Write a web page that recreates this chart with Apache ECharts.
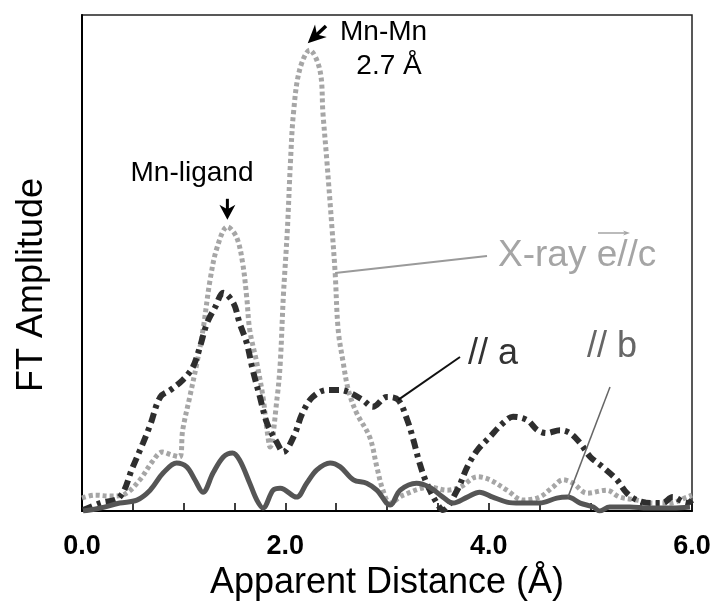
<!DOCTYPE html>
<html>
<head>
<meta charset="utf-8">
<script src="https://cdn.jsdelivr.net/npm/echarts@6/dist/echarts.min.js"></script>
<style>
  html, body { margin: 0; padding: 0; background: #fff; }
  #chart { width: 715px; height: 606px; }
</style>
</head>
<body>
<div id="chart"></div>
<script>
// x tick labels (Å)
var xTicks = [0, 2, 4, 6];
var xTickLabels = ['0.0', '2.0', '4.0', '6.0'];

// X-ray e//c (gray dotted)
var ecX = [0.00, 0.13, 0.28, 0.42, 0.57, 0.69, 0.79, 0.88, 0.96, 0.99, 1.06, 1.13, 1.19, 1.26, 1.33, 1.43, 1.52, 1.58, 1.62, 1.65, 1.72, 1.78, 1.82, 1.85, 1.92, 1.95, 1.98, 2.02, 2.05, 2.08, 2.14, 2.24, 2.34, 2.37, 2.41, 2.46, 2.49, 2.52, 2.57, 2.62, 2.70, 2.83, 2.90, 2.96, 3.03, 3.16, 3.42, 3.59, 3.72, 3.89, 4.01, 4.18, 4.34, 4.50, 4.63, 4.73, 4.83, 4.97, 5.16, 5.29, 5.46, 5.62, 5.78, 5.95, 6.00];
var ecY = [2.6, 3.2, 3.0, 3.4, 6.3, 9.9, 11.9, 11.3, 10.9, 16.3, 23.0, 29.8, 36.5, 46.6, 53.2, 57.3, 55.2, 50.0, 43.1, 36.5, 29.8, 23.0, 16.3, 12.9, 23.0, 29.8, 43.1, 56.7, 70.2, 80.2, 88.9, 92.9, 88.9, 80.2, 70.2, 56.7, 48.0, 36.5, 29.8, 24.4, 19.8, 14.9, 8.9, 4.2, 1.6, 3.2, 4.8, 4.2, 4.8, 6.9, 6.3, 4.2, 2.2, 2.8, 4.8, 6.3, 5.6, 3.6, 4.2, 2.8, 2.2, 1.6, 1.6, 2.8, 3.2];

// // a (dark dash-dot)
var aX = [0.01, 0.18, 0.37, 0.50, 0.60, 0.67, 0.77, 0.87, 0.99, 1.09, 1.16, 1.23, 1.31, 1.39, 1.49, 1.55, 1.62, 1.68, 1.75, 1.82, 1.92, 1.98, 2.08, 2.17, 2.27, 2.41, 2.54, 2.64, 2.76, 2.86, 3.00, 3.11, 3.20, 3.26, 3.32, 3.39, 3.49, 3.55, 3.69, 3.79, 3.89, 4.01, 4.14, 4.24, 4.38, 4.48, 4.57, 4.70, 4.80, 4.90, 5.00, 5.12, 5.26, 5.36, 5.46, 5.59, 5.71, 5.81, 5.95, 6.00];
var aY = [0.2, 1.6, 2.8, 8.9, 13.7, 17.3, 23.0, 24.4, 26.4, 29.0, 33.1, 37.9, 41.1, 44.0, 41.9, 37.9, 33.9, 28.4, 23.0, 17.7, 13.7, 11.9, 14.9, 19.8, 23.0, 24.4, 24.4, 23.8, 22.4, 21.0, 23.0, 22.4, 18.3, 14.3, 9.7, 5.6, 1.6, 0.2, 4.2, 8.9, 12.3, 14.9, 17.7, 19.0, 18.3, 16.3, 15.7, 16.3, 15.7, 13.7, 10.9, 8.9, 6.3, 3.6, 2.2, 1.6, 1.6, 2.8, 1.6, 2.2];

// // b (solid)
var bX = [0.01, 0.18, 0.37, 0.54, 0.67, 0.80, 0.93, 1.03, 1.11, 1.19, 1.29, 1.39, 1.48, 1.55, 1.65, 1.72, 1.78, 1.88, 1.95, 2.11, 2.21, 2.31, 2.44, 2.54, 2.67, 2.80, 2.90, 3.03, 3.13, 3.29, 3.42, 3.55, 3.65, 3.79, 3.91, 4.04, 4.18, 4.31, 4.50, 4.67, 4.78, 4.90, 5.03, 5.09, 5.19, 5.39, 5.56, 5.81, 5.98];
var bY = [0.0, 0.6, 1.6, 2.2, 4.2, 7.7, 9.7, 8.9, 6.3, 3.8, 7.7, 10.9, 11.7, 10.3, 5.6, 2.2, 0.6, 4.2, 4.6, 2.8, 5.6, 8.3, 9.7, 8.9, 6.3, 5.6, 4.2, 1.2, 4.2, 5.6, 4.8, 2.8, 1.6, 2.8, 3.8, 2.8, 1.8, 1.6, 1.6, 2.6, 2.8, 1.6, 0.8, 0.0, 0.8, 0.8, 0.6, 0.6, 0.8];

function pairs(xs, ys) {
    var out = [];
    for (var i = 0; i < xs.length; i++) out.push([xs[i], ys[i]]);
    return out;
}

var FONT = '"Liberation Sans", Arial, Helvetica, sans-serif';
var chart = echarts.init(document.getElementById('chart'));

var option = {
    backgroundColor: '#fff',
    animation: false,
    grid: {
        left: 82, right: 23, top: 15, bottom: 95,
        show: true, borderColor: '#222', borderWidth: 1.5, backgroundColor: 'transparent'
    },
    xAxis: {
        type: 'value',
        min: 0, max: 6, interval: 0.5,
        name: 'Apparent Distance (Å)',
        nameLocation: 'middle',
        nameGap: 53,
        nameTextStyle: { fontFamily: FONT, fontSize: 36, color: '#000' },
        axisLine: { lineStyle: { color: '#000', width: 2 } },
        axisTick: { inside: true, length: 8, lineStyle: { color: '#000', width: 1.5 } },
        axisLabel: {
            margin: 22,
            fontFamily: FONT, fontSize: 27, fontWeight: 'bold', color: '#000',
            formatter: function (v) {
                var k = xTicks.indexOf(Math.round(v * 100) / 100);
                return k >= 0 ? xTickLabels[k] : '';
            }
        },
        splitLine: { show: false }
    },
    yAxis: {
        type: 'value',
        min: 0, max: 100,
        name: 'FT Amplitude',
        nameLocation: 'middle',
        nameGap: 32,
        nameTextStyle: { fontFamily: FONT, fontSize: 36, color: '#000', padding: [0, 44, 0, 0] },
        axisLine: { show: true, lineStyle: { color: '#000', width: 2 } },
        axisTick: { show: false },
        axisLabel: { show: false },
        splitLine: { show: false }
    },
    series: [
        {
            name: 'X-ray e//c',
            type: 'line',
            data: pairs(ecX, ecY),
            smooth: 0.35,
            showSymbol: false,
            z: 2,
            lineStyle: { color: '#a6a6a6', width: 5, type: [4, 3], cap: 'butt' }
        },
        {
            name: '// a',
            type: 'line',
            data: pairs(aX, aY),
            smooth: 0.35,
            showSymbol: false,
            z: 3,
            lineStyle: { color: '#2e2e2e', width: 6, type: [10, 5, 4, 5], cap: 'butt' }
        },
        {
            name: '// b',
            type: 'line',
            data: pairs(bX, bY),
            smooth: 0.35,
            showSymbol: false,
            z: 4,
            lineStyle: { color: '#555', width: 5 }
        }
    ]
};
chart.setOption(option);

// annotations, anchored on the data points
function px(x, y) { return chart.convertToPixel({ gridIndex: 0 }, [x, y]); }

function arrowHead(tip, dx, dy, len, w, color) {
    var bx = tip[0] + dx * len, by = tip[1] + dy * len;
    var nx = -dy * w / 2, ny = dx * w / 2;
    return {
        type: 'polygon', z: 100,
        shape: { points: [tip, [bx + nx, by + ny], [tip[0] + dx * len * 0.7, tip[1] + dy * len * 0.7], [bx - nx, by - ny]] },
        style: { fill: color }
    };
}

function text(str, x, y, size, color, align) {
    return {
        type: 'text', z: 100, x: x, y: y,
        style: {
            text: str, fontFamily: FONT, fontSize: size, fill: color,
            align: align || 'center', verticalAlign: 'middle'
        }
    };
}

var pLig = px(ecX[15], ecY[15]);   // Mn-ligand peak
var pMn = px(ecX[31], ecY[31]);    // Mn-Mn peak
var pEc = px(ecX[36], ecY[36]);    // leader anchor on e//c
var pA = px(aX[31], aY[31]);       // leader anchor on // a
var pB = px(bX[40], bY[40]);       // leader anchor on // b

var ligTip = [pLig[0], pLig[1] - 7];
var mnTip = [pMn[0] - 2, pMn[1] - 7];
var d = [0.73, -0.69];

var graphics = [
    text('Mn-ligand', 192, 173, 28, '#000'),
    { type: 'line', z: 100, shape: { x1: ligTip[0], y1: ligTip[1] - 10, x2: ligTip[0], y2: ligTip[1] - 21 }, style: { stroke: '#000', lineWidth: 3 } },
    arrowHead(ligTip, 0, -1, 15, 16, '#000'),

    { type: 'line', z: 100, shape: { x1: mnTip[0] + d[0] * 10, y1: mnTip[1] + d[1] * 10, x2: mnTip[0] + d[0] * 25, y2: mnTip[1] + d[1] * 25 }, style: { stroke: '#000', lineWidth: 3.5 } },
    arrowHead(mnTip, d[0], d[1], 18, 17, '#000'),
    text('Mn-Mn', 340, 32, 28, '#000', 'left'),
    text('2.7 Å', 389, 66, 28, '#000'),

    { type: 'line', z: 100, shape: { x1: pEc[0], y1: pEc[1], x2: 487, y2: 256 }, style: { stroke: '#9a9a9a', lineWidth: 2 } },
    text('X-ray e//c', 498, 256, 37, '#a5a5a5', 'left'),
    { type: 'line', z: 100, shape: { x1: 598, y1: 233, x2: 625, y2: 233 }, style: { stroke: '#a5a5a5', lineWidth: 1.5 } },
    arrowHead([630, 233], -1, 0, 7, 5, '#a5a5a5'),

    { type: 'line', z: 100, shape: { x1: pA[0], y1: pA[1], x2: 460, y2: 357 }, style: { stroke: '#111', lineWidth: 2 } },
    text('// a', 468, 354, 36, '#333', 'left'),

    { type: 'line', z: 100, shape: { x1: pB[0], y1: pB[1], x2: 610, y2: 387 }, style: { stroke: '#666', lineWidth: 1.5 } },
    text('// b', 587, 347, 36, '#666', 'left')
];
chart.setOption({ graphic: graphics });
</script>
</body>
</html>
